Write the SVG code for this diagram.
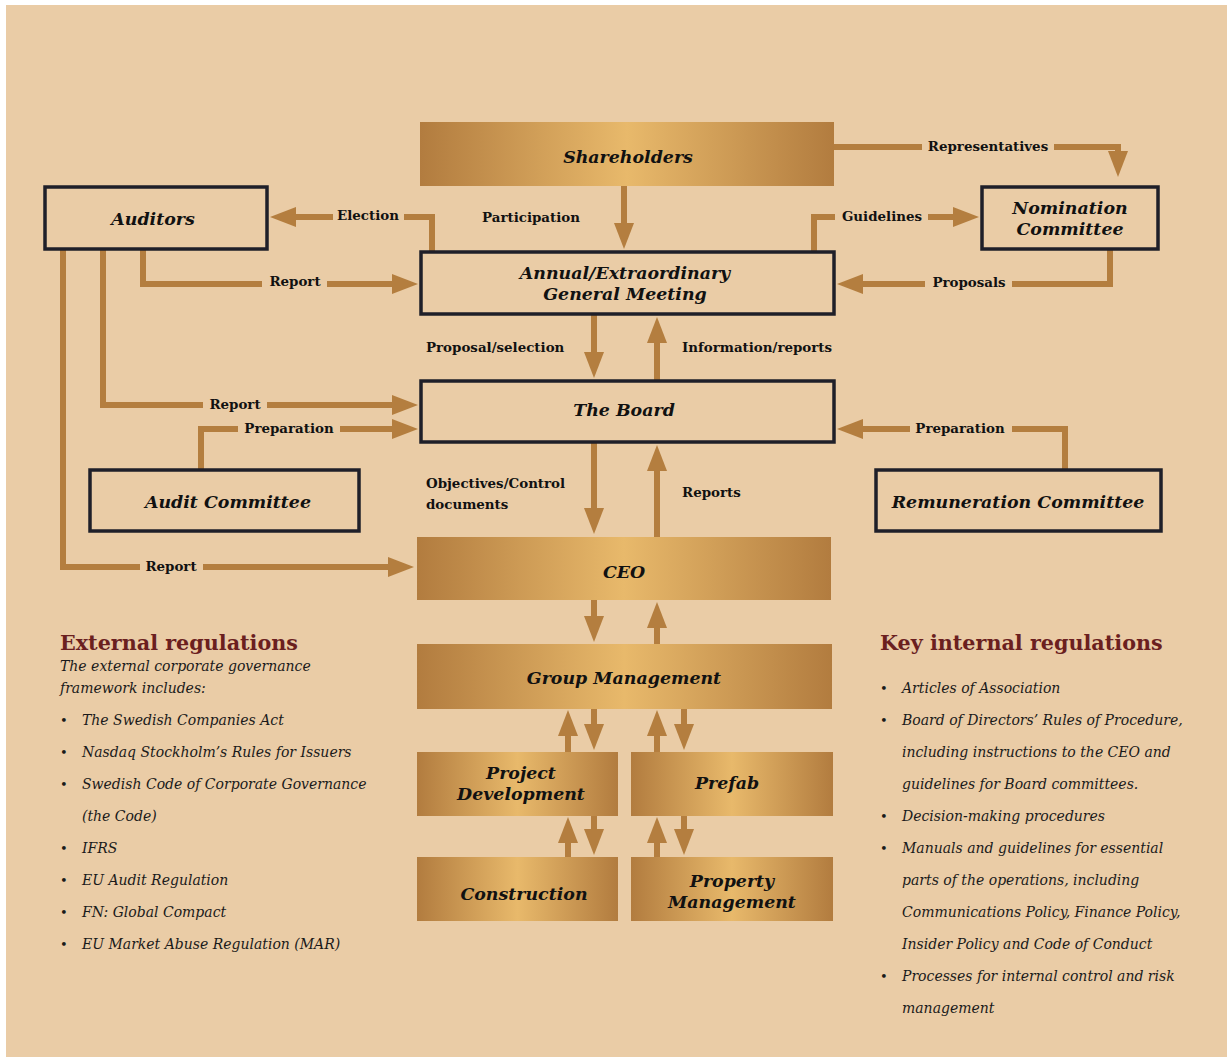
<svg xmlns="http://www.w3.org/2000/svg" width="1227" height="1057" viewBox="0 0 1227 1057">
<defs>
<linearGradient id="gold" x1="0" y1="0" x2="1" y2="0">
<stop offset="0" stop-color="#B27C3F"/>
<stop offset="0.5" stop-color="#E8B96B"/>
<stop offset="1" stop-color="#B27C3F"/>
</linearGradient>
<marker id="ah" markerUnits="userSpaceOnUse" viewBox="0 0 26 20" refX="1" refY="10" markerWidth="26" markerHeight="20" orient="auto">
<path d="M0,0 L26,10 L0,20 z" fill="#B47E3F"/>
</marker>
<style>
.gold{fill:url(#gold);}
.box{fill:none;stroke:#1F1F29;stroke-width:3.5;}
.nt{font-family:"DejaVu Serif",serif;font-weight:bold;font-style:italic;font-size:17.4px;fill:#111;text-anchor:middle;}
.ln{fill:none;stroke:#B47E3F;stroke-width:6;marker-end:url(#ah);}
.lb{font-family:"DejaVu Serif",serif;font-weight:bold;font-size:13.4px;fill:#111;}
.gap{fill:#EACCA6;}
.hd{font-family:"DejaVu Serif",serif;font-weight:bold;font-size:20.7px;fill:#6B1F1F;}
.it{font-family:"DejaVu Serif",serif;font-style:italic;font-size:14px;fill:#1a1a1a;}
.bl{font-family:"DejaVu Serif",serif;font-size:13px;fill:#1a1a1a;}
</style>
</defs>
<rect x="0" y="0" width="1227" height="1057" fill="#ffffff"/>
<rect x="6" y="5" width="1221" height="1052" fill="#EACCA6"/>

<g id="connectors">
<path class="ln" d="M624,186 V224"/>
<path class="ln" d="M834,147 H1118 V152"/>
<path class="ln" d="M814,252 V217 H954"/>
<path class="ln" d="M1110,249 V284 H862"/>
<path class="ln" d="M432,252 V217 H295"/>
<path class="ln" d="M143,249 V284 H393"/>
<path class="ln" d="M103,249 V405 H393"/>
<path class="ln" d="M63,249 V567 H389"/>
<path class="ln" d="M201,470 V429 H393"/>
<path class="ln" d="M1065,470 V429 H862"/>
<path class="ln" d="M594,314 V353"/>
<path class="ln" d="M657,381 V342"/>
<path class="ln" d="M594,442 V509"/>
<path class="ln" d="M657,537 V470"/>
<path class="ln" d="M594,600 V617"/>
<path class="ln" d="M657,644 V627"/>
<path class="ln" d="M568,752 V735"/>
<path class="ln" d="M594,708 V725"/>
<path class="ln" d="M657,752 V735"/>
<path class="ln" d="M684,708 V725"/>
<path class="ln" d="M568,857 V842"/>
<path class="ln" d="M594,815 V830"/>
<path class="ln" d="M657,857 V842"/>
<path class="ln" d="M684,815 V830"/>
<rect class="gap" x="922" y="138" width="132" height="18"/>
<rect class="gap" x="835" y="208" width="93" height="18"/>
<rect class="gap" x="925" y="275" width="87" height="18"/>
<rect class="gap" x="333" y="207" width="71" height="18"/>
<rect class="gap" x="262" y="274" width="65" height="18"/>
<rect class="gap" x="203" y="396" width="64" height="18"/>
<rect class="gap" x="140" y="558" width="63" height="18"/>
<rect class="gap" x="238" y="420" width="102" height="18"/>
<rect class="gap" x="910" y="420" width="102" height="18"/>
<text class="lb" x="988" y="151" text-anchor="middle">Representatives</text>
<text class="lb" x="531" y="222" text-anchor="middle">Participation</text>
<text class="lb" x="882" y="221" text-anchor="middle">Guidelines</text>
<text class="lb" x="969" y="287" text-anchor="middle">Proposals</text>
<text class="lb" x="368" y="220" text-anchor="middle">Election</text>
<text class="lb" x="295" y="286" text-anchor="middle">Report</text>
<text class="lb" x="235" y="409" text-anchor="middle">Report</text>
<text class="lb" x="171" y="571" text-anchor="middle">Report</text>
<text class="lb" x="289" y="433" text-anchor="middle">Preparation</text>
<text class="lb" x="960" y="433" text-anchor="middle">Preparation</text>
<text class="lb" x="426" y="352">Proposal/selection</text>
<text class="lb" x="682" y="352">Information/reports</text>
<text class="lb" x="426" y="488">Objectives/Control</text>
<text class="lb" x="426" y="509">documents</text>
<text class="lb" x="682" y="497">Reports</text>
</g>

<g id="shareholders"><rect class="gold" x="420" y="122" width="414" height="64"/><text class="nt" x="628" y="163">Shareholders</text></g>
<g id="agm"><rect class="box" x="421" y="252" width="413" height="62"/><text class="nt" x="625" y="279">Annual/Extraordinary</text><text class="nt" x="625" y="300">General Meeting</text></g>
<g id="auditors"><rect class="box" x="45" y="187" width="222" height="62"/><text class="nt" x="153" y="225">Auditors</text></g>
<g id="nomination"><rect class="box" x="982" y="187" width="176" height="62"/><text class="nt" x="1070" y="214">Nomination</text><text class="nt" x="1070" y="235">Committee</text></g>
<g id="board"><rect class="box" x="421" y="381" width="413" height="61"/><text class="nt" x="624" y="416">The Board</text></g>
<g id="audit-committee"><rect class="box" x="90" y="470" width="269" height="61"/><text class="nt" x="228" y="508">Audit Committee</text></g>
<g id="remuneration"><rect class="box" x="876" y="470" width="285" height="61"/><text class="nt" x="1018" y="508">Remuneration Committee</text></g>
<g id="ceo"><rect class="gold" x="417" y="537" width="414" height="63"/><text class="nt" x="624" y="578">CEO</text></g>
<g id="group-management"><rect class="gold" x="417" y="644" width="415" height="65"/><text class="nt" x="624" y="684">Group Management</text></g>
<g id="project-development"><rect class="gold" x="417" y="752" width="201" height="64"/><text class="nt" x="521" y="779">Project</text><text class="nt" x="521" y="800">Development</text></g>
<g id="prefab"><rect class="gold" x="631" y="752" width="202" height="64"/><text class="nt" x="727" y="789">Prefab</text></g>
<g id="construction"><rect class="gold" x="417" y="857" width="201" height="64"/><text class="nt" x="524" y="900">Construction</text></g>
<g id="property-management"><rect class="gold" x="631" y="857" width="202" height="64"/><text class="nt" x="732" y="887">Property</text><text class="nt" x="732" y="908">Management</text></g>

<g id="external">
<text class="hd" x="60" y="650">External regulations</text>
<text class="it" x="60" y="671">The external corporate governance</text>
<text class="it" x="60" y="693">framework includes:</text>
<text class="bl" x="60" y="725">•</text><text class="it" x="82" y="725">The Swedish Companies Act</text>
<text class="bl" x="60" y="757">•</text><text class="it" x="82" y="757">Nasdaq Stockholm’s Rules for Issuers</text>
<text class="bl" x="60" y="789">•</text><text class="it" x="82" y="789">Swedish Code of Corporate Governance</text>
<text class="it" x="82" y="821">(the Code)</text>
<text class="bl" x="60" y="853">•</text><text class="it" x="82" y="853">IFRS</text>
<text class="bl" x="60" y="885">•</text><text class="it" x="82" y="885">EU Audit Regulation</text>
<text class="bl" x="60" y="917">•</text><text class="it" x="82" y="917">FN: Global Compact</text>
<text class="bl" x="60" y="949">•</text><text class="it" x="82" y="949">EU Market Abuse Regulation (MAR)</text>
</g>

<g id="internal">
<text class="hd" x="880" y="650">Key internal regulations</text>
<text class="bl" x="880" y="693">•</text><text class="it" x="902" y="693">Articles of Association</text>
<text class="bl" x="880" y="725">•</text><text class="it" x="902" y="725">Board of Directors’ Rules of Procedure,</text>
<text class="it" x="902" y="757">including instructions to the CEO and</text>
<text class="it" x="902" y="789">guidelines for Board committees.</text>
<text class="bl" x="880" y="821">•</text><text class="it" x="902" y="821">Decision-making procedures</text>
<text class="bl" x="880" y="853">•</text><text class="it" x="902" y="853">Manuals and guidelines for essential</text>
<text class="it" x="902" y="885">parts of the operations, including</text>
<text class="it" x="902" y="917">Communications Policy, Finance Policy,</text>
<text class="it" x="902" y="949">Insider Policy and Code of Conduct</text>
<text class="bl" x="880" y="981">•</text><text class="it" x="902" y="981">Processes for internal control and risk</text>
<text class="it" x="902" y="1013">management</text>
</g>
</svg>
